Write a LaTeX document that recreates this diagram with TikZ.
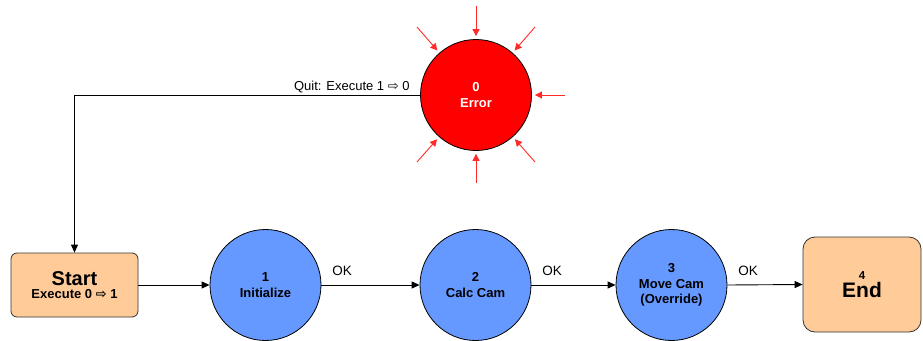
\documentclass[tikz,border=0pt]{standalone}
\usepackage{fontspec}
\setmainfont{Liberation Sans}
\newfontfamily\arrowfont{DejaVu Sans}
\usetikzlibrary{arrows.meta}

\definecolor{stateblue}{HTML}{6699FF}
\definecolor{termorange}{HTML}{FFCC99}
\definecolor{errred}{HTML}{FF0000}
\definecolor{alarmred}{HTML}{FF2A2A}

\begin{document}
\begin{tikzpicture}[x=1pt,y=-1pt,
  line width=0.9pt,
  statecircle/.style={circle,draw=black,line width=0.8pt,fill=stateblue,
    minimum size=111pt,inner sep=0pt,align=center,
    font=\bfseries\fontsize{13}{15.5}\selectfont},
  errcircle/.style={statecircle,fill=errred,text=white},
  termbox/.style={rectangle,draw=black!80,line width=0.8pt,fill=termorange,
    align=center,inner sep=0pt},
  flow/.style={draw=black,-{Triangle[length=8pt,width=7pt]}},
  alarm/.style={draw=alarmred,line width=0.9pt,-{Triangle[length=7pt,width=7pt]},shorten >=3pt},
  edgelabel/.style={font=\fontsize{13.5}{15}\selectfont,inner sep=0pt}
]
\useasboundingbox (0,0) rectangle (923,340);

% states
\node[errcircle] (err) at (476,95) {0\\Error};
\node[statecircle] (s1) at (265.5,285) {1\\Initialize};
\node[statecircle] (s2) at (475.5,285) {2\\Calc Cam};
\node[statecircle] (s3) at (671.5,285) {3\\Move Cam\\(Override)};

\node[termbox,rounded corners=6pt,minimum width=127pt,minimum height=64pt] (start) at (74.5,285)
  {{\fontsize{20}{22}\selectfont\bfseries Start}\\[1pt]
   {\fontsize{13}{15}\selectfont\bfseries Execute 0 {\arrowfont\bfseries ⇨} 1}};
\node[termbox,rounded corners=12pt,minimum width=118pt,minimum height=95pt] (end) at (862,284.5)
  {{\fontsize{11.5}{12}\selectfont\bfseries 4}\\[2pt]
   {\fontsize{21}{23}\selectfont\bfseries End}};

% main flow
\draw[flow] (start.east) -- (s1.west);
\draw[flow] (s1.east) -- (s2.west);
\draw[flow] (s2.east) -- (s3.west);
\draw[flow] (s3.east) -- (end.west);

\node[edgelabel] (ok1) at (342,271) {OK};
\node[edgelabel] (ok2) at (552,271) {OK};
\node[edgelabel] (ok3) at (748,271) {OK};

% quit path back to start
\draw[flow] (err.west) -| (start.north);
\node[edgelabel,anchor=base east,font=\fontsize{13}{15}\selectfont] (quit) at (410,90)
  {Quit: Execute 1 {\arrowfont ⇨} 0};

% error triggers
\coordinate (aT) at (476,6);
\coordinate (aTL) at (417,27);
\coordinate (aTR) at (535,27);
\coordinate (aR) at (565,95);
\coordinate (aB) at (476,183);
\coordinate (aBL) at (417,162);
\coordinate (aBR) at (535,162);
\foreach \c in {aT,aTL,aTR,aR,aB,aBL,aBR}
  \draw[alarm] (\c) -- (err);
\end{tikzpicture}
\end{document}
